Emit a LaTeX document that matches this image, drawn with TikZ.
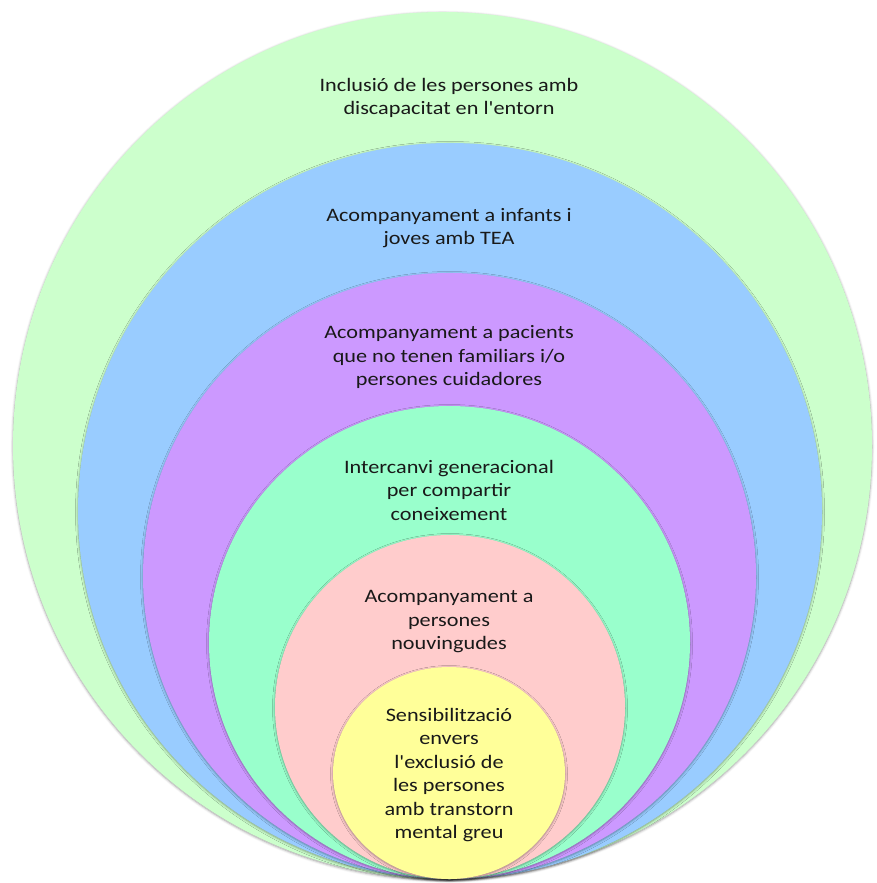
\documentclass[tikz,border=0pt]{standalone}
\usepackage{fontspec}
\setmainfont{Carlito}[FakeStretch=1.17, Ligatures=TeXOff]
\usetikzlibrary{shapes.geometric, positioning, shadows.blur}

\definecolor{ringgreen}{HTML}{CCFFCC}
\definecolor{ringblue}{HTML}{99CCFF}
\definecolor{ringpurple}{HTML}{CC99FF}
\definecolor{ringteal}{HTML}{99FFCC}
\definecolor{ringpink}{HTML}{FFCCCC}
\definecolor{ringyellow}{HTML}{FFFF99}

\begin{document}
\begin{tikzpicture}[x=1pt, y=-1pt,
    ring/.style={ellipse, draw=none, inner sep=0pt,
        blur shadow={shadow xshift=0pt, shadow yshift=-1pt, shadow blur radius=2.5pt, shadow opacity=40}},
    ringtext/.style={align=center, text=black!90, font=\fontsize{19}{23.5}\selectfont}]

\useasboundingbox (0,0) rectangle (877,883);

% nested rings, all touching at the bottom
\node [ring, fill=ringgreen,  minimum width=859pt, minimum height=867pt] (green)  at (442.5,445.5) {};
\node [ring, fill=ringblue,   minimum width=744pt, minimum height=736pt] (blue)   at (450,511) {};
\node [ring, fill=ringpurple, minimum width=613pt, minimum height=606pt] (purple) at (449.5,576) {};
\node [ring, fill=ringteal,   minimum width=481pt, minimum height=473pt] (teal)   at (449.5,642.5) {};
\node [ring, fill=ringpink,   minimum width=350pt, minimum height=344pt] (pink)   at (450,707) {};
\node [ring, fill=ringyellow, minimum width=232pt, minimum height=212pt] (yellow) at (449,773) {};

% texts
\node [ringtext] (tgreen)  at (449,98)  {Inclusió de les persones amb\\discapacitat en l'entorn};
\node [ringtext] (tblue)   at (449,228) {Acompanyament a infants i\\joves amb TEA};
\node [ringtext] (tpurple) at (449,357) {Acompanyament a pacients\\que no tenen familiars i/o\\persones cuidadores};
\node [ringtext] (tteal)   at (449,490) {Intercanvi generacional\\per compartir\\coneixement};
\node [ringtext] (tpink)   at (449,622) {Acompanyament a\\persones\\nouvingudes};
\node [ringtext] (tyellow) at (449,775) {Sensibilització\\envers\\l'exclusió de\\les persones\\amb transtorn\\mental greu};

\end{tikzpicture}
\end{document}
